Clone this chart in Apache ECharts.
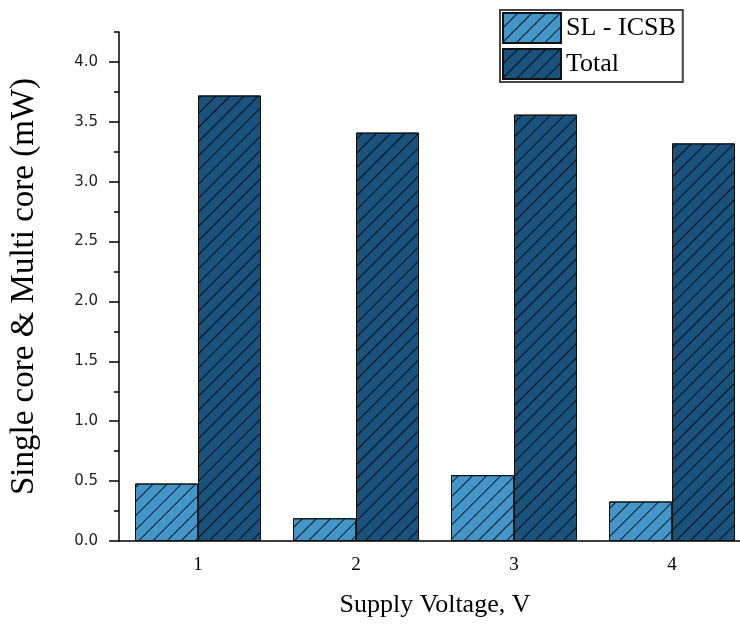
<!DOCTYPE html>
<html>
<head>
<meta charset="utf-8">
<script src="https://cdn.jsdelivr.net/npm/echarts@6/dist/echarts.min.js"></script>
<style>
  html, body { margin: 0; padding: 0; background: #fff; }
  #chart { width: 740px; height: 624px; }
</style>
</head>
<body>
<div id="chart"></div>
<script>
// supply voltage categories
const voltages = ['1', '2', '3', '4'];
// power values (mW)
const slIcsb = [0.48, 0.19, 0.55, 0.33];
const total = [3.72, 3.41, 3.56, 3.32];
const seriesNames = ['SL - ICSB', 'Total'];

const hatch = {
  symbol: 'rect',
  symbolSize: 1,
  color: 'rgba(0,0,0,0.85)',
  dashArrayX: [1, 0],
  dashArrayY: [1, 9],
  rotation: -Math.PI / 4
};

const myChart = echarts.init(document.getElementById('chart'));
const serif = '"Liberation Serif", "DejaVu Serif", serif';

let option = {
  animation: false,
  // the plot runs past the right edge of the picture
  grid: { left: 119, width: 632, top: 32, bottom: 83, outerBoundsMode: 'none' },
  legend: {
    orient: 'vertical',
    left: 500,
    top: 10,
    icon: 'rect',
    itemWidth: 58,
    itemHeight: 30,
    itemGap: 4,
    padding: [2, 7, 2, 2],
    borderColor: '#444',
    borderWidth: 2,
    textStyle: { fontFamily: serif, fontSize: 26, color: '#000' },
    data: seriesNames
  },
  xAxis: [
    {
      type: 'category',
      position: 'bottom',
      data: voltages,
      name: 'Supply Voltage, V',
      nameLocation: 'middle',
      nameGap: 51,
      nameTextStyle: { fontFamily: serif, fontSize: 26, color: '#000' },
      axisLine: { lineStyle: { color: '#000', width: 1.5 } },
      axisTick: { alignWithLabel: true, length: 9, lineStyle: { color: '#000', width: 1.5 } },
      axisLabel: { margin: 15, fontFamily: serif, fontSize: 19, color: '#000' }
    },
    {
      type: 'category',
      position: 'bottom',
      data: voltages,
      axisLine: { show: false },
      axisTick: { length: 5, lineStyle: { color: '#000', width: 1.5 } },
      axisLabel: { show: false }
    }
  ],
  yAxis: [
    {
      type: 'value',
      min: 0,
      max: 4.25,
      interval: 0.5,
      name: 'Single core & Multi core (mW)',
      nameLocation: 'middle',
      nameGap: 78,
      nameTextStyle: { fontFamily: serif, fontSize: 33, color: '#000' },
      axisLine: { show: true, lineStyle: { color: '#000', width: 1.5 } },
      axisTick: { show: true, length: 10, lineStyle: { color: '#000', width: 1.5 } },
      splitLine: { show: false },
      axisLabel: {
        margin: 21,
        fontFamily: '"DejaVu Sans", sans-serif',
        fontSize: 15,
        color: '#222',
        showMaxLabel: false,
        formatter: v => v.toFixed(1)
      }
    },
    {
      type: 'value',
      position: 'left',
      min: 0,
      max: 4.25,
      interval: 0.25,
      axisLine: { show: false },
      axisTick: { show: true, length: 5, lineStyle: { color: '#000', width: 1.5 } },
      splitLine: { show: false },
      axisLabel: { show: false }
    }
  ],
  series: [
    {
      name: seriesNames[0],
      type: 'bar',
      xAxisIndex: 0,
      yAxisIndex: 0,
      data: slIcsb,
      barWidth: 63,
      barGap: '0%',
      itemStyle: { color: '#4596c8', borderColor: '#111', borderWidth: 1, decal: hatch }
    },
    {
      name: seriesNames[1],
      type: 'bar',
      xAxisIndex: 0,
      yAxisIndex: 0,
      data: total,
      barWidth: 63,
      barGap: '0%',
      itemStyle: { color: '#18527d', borderColor: '#111', borderWidth: 1, decal: hatch }
    }
  ]
};
myChart.setOption(option);
</script>
</body>
</html>
